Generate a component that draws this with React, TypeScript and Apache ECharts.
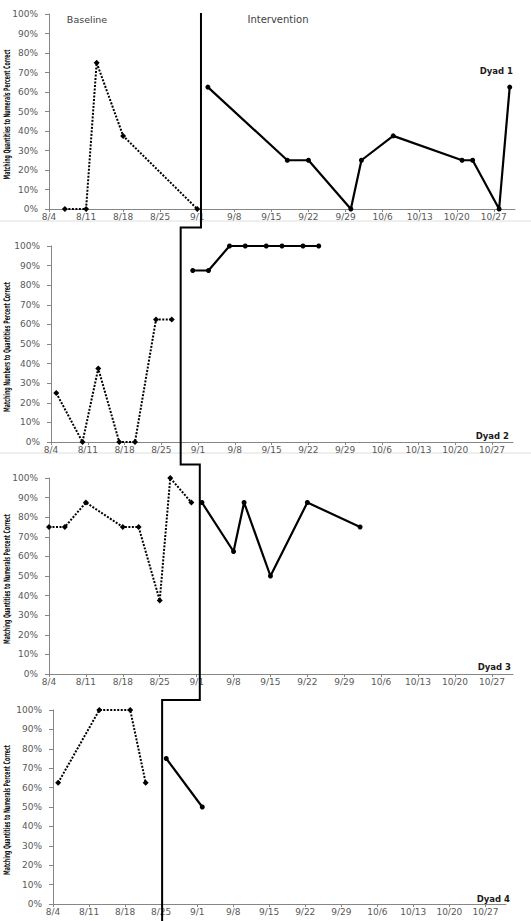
import React, { useEffect, useRef } from "react";
import * as echarts from "echarts";

// ---------- data ----------
const axisStartDate = "8/4";
const axisEndDate = "10/31";
const tickLabels = ["8/4", "8/11", "8/18", "8/25", "9/1", "9/8", "9/15", "9/22", "9/29", "10/6", "10/13", "10/20", "10/27"];
const yTickValues = [0, 10, 20, 30, 40, 50, 60, 70, 80, 90, 100];

const dyadNames = ["Dyad 1", "Dyad 2", "Dyad 3", "Dyad 4"];
const yTitles = [
  "Matching Quantities to Numerals Percent Correct",
  "Matching Numbers to Quantities Percent Correct",
  "Matching Quantities to Numerals Percent Correct",
  "Matching Quantities to Numerals Percent Correct",
];
const phaseLabels = ["Baseline", "Intervention"];

const d1BaselineDates = ["8/7", "8/11", "8/13", "8/18", "9/1"];
const d1BaselineValues = [0, 0, 75, 37.5, 0];
const d1InterventionDates = ["9/3", "9/18", "9/22", "9/30", "10/2", "10/8", "10/21", "10/23", "10/28", "10/30"];
const d1InterventionValues = [62.5, 25, 25, 0, 25, 37.5, 25, 25, 0, 62.5];

const d2BaselineDates = ["8/5", "8/10", "8/13", "8/17", "8/20", "8/24", "8/27"];
const d2BaselineValues = [25, 0, 37.5, 0, 0, 62.5, 62.5];
const d2InterventionDates = ["8/31", "9/3", "9/7", "9/10", "9/14", "9/17", "9/21", "9/24"];
const d2InterventionValues = [87.5, 87.5, 100, 100, 100, 100, 100, 100];

const d3BaselineDates = ["8/4", "8/7", "8/11", "8/18", "8/21", "8/25", "8/27", "8/31"];
const d3BaselineValues = [75, 75, 87.5, 75, 75, 37.5, 100, 87.5];
const d3InterventionDates = ["9/2", "9/8", "9/10", "9/15", "9/22", "10/2"];
const d3InterventionValues = [87.5, 62.5, 87.5, 50, 87.5, 75];

const d4BaselineDates = ["8/5", "8/13", "8/19", "8/22"];
const d4BaselineValues = [62.5, 100, 100, 62.5];
const d4InterventionDates = ["8/26", "9/2"];
const d4InterventionValues = [75, 50];

// phase change (days after 8/4, drawn between sessions)
const phaseChangeDays = [28.7, 24.7, 28.6, 21.2];

// ---------- helpers ----------
function dayOf(md: string): number {
  const [m, d] = md.split("/").map(Number);
  const [m0, d0] = axisStartDate.split("/").map(Number);
  return Math.round((Date.UTC(2012, m - 1, d) - Date.UTC(2012, m0 - 1, d0)) / 86400000);
}
function pairs(dates: string[], vals: number[]) {
  return dates.map((d, i) => [dayOf(d), vals[i]]);
}

const panels = [
  { base: pairs(d1BaselineDates, d1BaselineValues), inter: pairs(d1InterventionDates, d1InterventionValues) },
  { base: pairs(d2BaselineDates, d2BaselineValues), inter: pairs(d2InterventionDates, d2InterventionValues) },
  { base: pairs(d3BaselineDates, d3BaselineValues), inter: pairs(d3InterventionDates, d3InterventionValues) },
  { base: pairs(d4BaselineDates, d4BaselineValues), inter: pairs(d4InterventionDates, d4InterventionValues) },
];

// layout (pixels)
const grids = [
  { left: 49, top: 14, width: 466, height: 195 },
  { left: 51, top: 246, width: 462, height: 196 },
  { left: 49, top: 478, width: 464, height: 196 },
  { left: 53, top: 710, width: 453, height: 194 },
];
const dyadPos = [
  { x: 513, y: 71 },
  { x: 509, y: 436 },
  { x: 511, y: 667 },
  { x: 510, y: 899 },
];
const stepY = [13, 227.5, 464.5, 700, 921];
const TITLE_X = 7;
const TITLE_LEN = 130;

const AXIS_COLOR = "#868686";
const LABEL_COLOR = "#595959";
const FONT = "'DejaVu Sans', Verdana, sans-serif";
const TITLE_FONT = "bold 9px 'DejaVu Sans Condensed', 'DejaVu Sans', sans-serif";

function measure(text: string, font: string): number {
  const c = document.createElement("canvas").getContext("2d");
  if (!c) return text.length * 5;
  c.font = font;
  return c.measureText(text).width;
}

export default function App() {
  const ref = useRef<HTMLDivElement>(null);
  useEffect(() => {
    if (!ref.current) return;
    const chart = echarts.init(ref.current, undefined, { renderer: "svg" });
    const maxDay = dayOf(axisEndDate);

    const xAxis = grids.map((_, i) => ({
      type: "value",
      gridIndex: i,
      min: 0,
      max: maxDay,
      interval: 7,
      axisLine: { show: true, lineStyle: { color: AXIS_COLOR, width: 1 } },
      axisTick: { show: true, length: 3, lineStyle: { color: AXIS_COLOR } },
      axisLabel: {
        fontSize: 9,
        color: LABEL_COLOR,
        fontFamily: FONT,
        margin: 3,
        showMaxLabel: false,
        formatter: (v: number) => (v % 7 === 0 && tickLabels[v / 7] ? tickLabels[v / 7] : ""),
      },
      splitLine: { show: false },
    }));

    const yAxis = grids.map((_, i) => ({
      type: "value",
      gridIndex: i,
      min: yTickValues[0],
      max: yTickValues[yTickValues.length - 1],
      interval: 10,
      axisLine: { show: true, lineStyle: { color: AXIS_COLOR, width: 1 } },
      axisTick: { show: true, length: 4, lineStyle: { color: AXIS_COLOR } },
      axisLabel: { fontSize: 9, color: LABEL_COLOR, fontFamily: FONT, margin: 11, formatter: "{value}%" },
      splitLine: { show: false },
    }));

    const series: any[] = [];
    panels.forEach((p, i) => {
      series.push({
        type: "line",
        xAxisIndex: i,
        yAxisIndex: i,
        data: p.base,
        symbol: "diamond",
        symbolSize: 6,
        itemStyle: { color: "#000" },
        lineStyle: { color: "#000", width: 2, type: [2, 1.5] },
        z: 3,
      });
      series.push({
        type: "line",
        xAxisIndex: i,
        yAxisIndex: i,
        data: p.inter,
        symbol: "circle",
        symbolSize: 5,
        itemStyle: { color: "#000" },
        lineStyle: { color: "#000", width: 2.2 },
        z: 3,
      });
    });

    const titles = yTitles.map((t, i) => {
      const w = measure(t, TITLE_FONT);
      const g = grids[i];
      return {
        type: "text",
        x: TITLE_X,
        y: g.top + g.height / 2 + 3,
        rotation: Math.PI / 2,
        scaleX: TITLE_LEN / w,
        style: { text: t, font: TITLE_FONT, fill: "#111", align: "center", verticalAlign: "middle" },
        silent: true,
      };
    });

    const baseGraphic: any[] = [
      { type: "line", shape: { x1: 0, y1: 221, x2: 531, y2: 221 }, style: { stroke: "#dedede", lineWidth: 1 }, silent: true },
      { type: "line", shape: { x1: 0, y1: 453, x2: 531, y2: 453 }, style: { stroke: "#dedede", lineWidth: 1 }, silent: true },
      { type: "text", x: 87, y: 19, style: { text: phaseLabels[0], font: `9.5px ${FONT}`, fill: "#404040", align: "center", verticalAlign: "middle" } },
      { type: "text", x: 278, y: 19, style: { text: phaseLabels[1], font: `10px ${FONT}`, fill: "#404040", align: "center", verticalAlign: "middle" } },
      ...dyadNames.map((n, i) => ({
        type: "text",
        x: dyadPos[i].x,
        y: dyadPos[i].y,
        style: { text: n, font: `bold 8.5px ${FONT}`, fill: "#1a1a1a", align: "right", verticalAlign: "middle" },
      })),
      ...titles,
    ];

    chart.setOption({
      animation: false,
      backgroundColor: "#fff",
      grid: grids.map((g) => ({ ...g, containLabel: false, outerBoundsMode: "none" })),
      xAxis,
      yAxis,
      series,
      graphic: baseGraphic,
    });

    // phase-change line (multiple-baseline staircase)
    const xs = phaseChangeDays.map((d, i) => chart.convertToPixel({ xAxisIndex: i } as any, d) as unknown as number);
    const pts: number[][] = [];
    xs.forEach((x, i) => {
      pts.push([x, stepY[i]]);
      pts.push([x, stepY[i + 1]]);
    });
    chart.setOption({
      graphic: [
        ...baseGraphic,
        { type: "polyline", shape: { points: pts }, style: { stroke: "#000", lineWidth: 2, fill: null }, z: 10, silent: true },
      ],
    });

    return () => chart.dispose();
  }, []);

  return <div ref={ref} style={{ position: "absolute", left: 0, top: 0, width: 531, height: 921 }} />;
}
